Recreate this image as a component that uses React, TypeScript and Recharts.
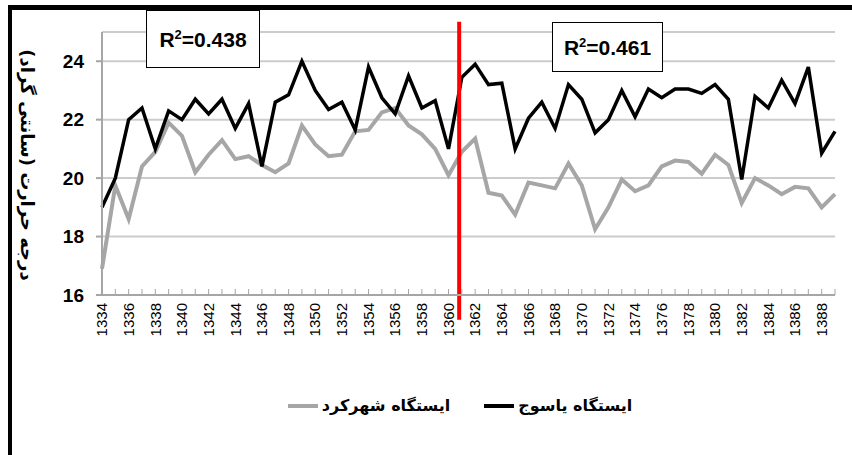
import {
	CartesianGrid,
	Legend,
	Line,
	LineChart,
	ReferenceLine,
	XAxis,
	YAxis,
} from 'recharts';

const years = [
	1334, 1335, 1336, 1337, 1338, 1339, 1340, 1341, 1342, 1343, 1344, 1345, 1346, 1347,
	1348, 1349, 1350, 1351, 1352, 1353, 1354, 1355, 1356, 1357, 1358, 1359, 1360, 1361,
	1362, 1363, 1364, 1365, 1366, 1367, 1368, 1369, 1370, 1371, 1372, 1373, 1374, 1375,
	1376, 1377, 1378, 1379, 1380, 1381, 1382, 1383, 1384, 1385, 1386, 1387, 1388, 1389,
];

// ایستگاه یاسوج (black)
const yasuj = [
	19.0, 20.0, 22.0, 22.4, 21.0, 22.3, 22.0, 22.7, 22.2, 22.7, 21.7, 22.55, 20.4, 22.6,
	22.85, 24.0, 23.0, 22.35, 22.6, 21.65, 23.8, 22.75, 22.2, 23.5, 22.4, 22.65, 21.0, 23.45,
	23.9, 23.2, 23.25, 21.0, 22.05, 22.6, 21.7, 23.2, 22.7, 21.55, 22.0, 23.0, 22.1, 23.05,
	22.75, 23.05, 23.05, 22.9, 23.2, 22.7, 19.95, 22.8, 22.4, 23.35, 22.55, 23.8, 20.85, 21.6,
];

// ایستگاه شهرکرد (gray)
const shahrekord = [
	16.9, 19.75, 18.6, 20.4, 20.9, 21.9, 21.45, 20.2, 20.8, 21.3, 20.65, 20.75, 20.45, 20.2,
	20.5, 21.8, 21.15, 20.75, 20.8, 21.6, 21.65, 22.25, 22.4, 21.8, 21.5, 21.0, 20.1, 20.9,
	21.35, 19.5, 19.4, 18.75, 19.85, 19.75, 19.65, 20.5, 19.75, 18.25, 19.0, 19.95, 19.55, 19.75,
	20.4, 20.6, 20.55, 20.15, 20.8, 20.45, 19.15, 20.0, 19.75, 19.45, 19.7, 19.65, 19.0, 19.45,
];

const yTicks = [16, 18, 20, 22, 24];
const breakYear = 1360.8;
const r2Left = '0.438';
const r2Right = '0.461';

const data = years.map((year, i) => ({
	year,
	yasuj: yasuj[i],
	shahrekord: shahrekord[i],
}));

const persianFont = "'DejaVu Sans', 'Noto Sans', sans-serif";
const numFont = "'Liberation Sans Narrow', 'Liberation Sans', Arial, sans-serif";

const YearTick = (props: any) => {
	const { x, y, payload } = props;
	if ((payload.value - years[0]) % 2 !== 0) return null;
	return (
		<text
			x={x}
			y={y}
			dy='0.35em'
			transform={`rotate(-90 ${x} ${y})`}
			textAnchor='end'
			fontSize={15}
			fontFamily="'Liberation Sans', Arial, sans-serif"
			fill='#000'>
			{payload.value}
		</text>
	);
};

const YLabel = () => (
	<text
		x={27}
		y={165}
		transform='rotate(90 27 165)'
		textAnchor='middle'
		dominantBaseline='central'
		fontSize={18}
		fontWeight='bold'
		fontFamily={persianFont}
		fill='#000'>
		درجه حرارت (سانتی گراد)
	</text>
);

const LegendContent = (props: any) => {
	const items = [...(props.payload || [])];
	return (
		<div
			style={{
				display: 'flex',
				justifyContent: 'center',
				alignItems: 'center',
				gap: 34,
				paddingLeft: 68,
			}}>
			{items.map((item: any) => (
				<div
					key={item.value}
					style={{ display: 'flex', alignItems: 'center', gap: 4 }}>
					<span
						style={{
							display: 'inline-block',
							width: 30,
							height: 4,
							background: item.color,
						}}
					/>
					<span
						style={{
							fontFamily: persianFont,
							fontWeight: 'bold',
							fontSize: 16,
							color: '#000',
						}}>
						{item.value}
					</span>
				</div>
			))}
		</div>
	);
};

const boxStyle = {
	position: 'absolute' as const,
	background: '#fff',
	border: '1.5px solid #000',
	display: 'flex',
	alignItems: 'center',
	justifyContent: 'center',
	fontFamily: numFont,
	fontWeight: 'bold' as const,
	fontSize: 21,
	color: '#000',
	boxSizing: 'border-box' as const,
};

export default function App() {
	return (
		<div
			style={{
				position: 'absolute',
				left: 0,
				top: 0,
				width: 852,
				height: 455,
				background: '#fff',
				overflow: 'hidden',
			}}>
			<LineChart
				width={852}
				height={455}
				data={data}
				margin={{ top: 32, right: 17, bottom: 100, left: 0 }}>
				<CartesianGrid
					vertical={false}
					stroke='#cccccc'
					strokeWidth={2}
				/>
				<XAxis
					dataKey='year'
					type='number'
					domain={[1334, 1389]}
					ticks={years}
					interval={0}
					height={60}
					tickSize={-6}
					tickMargin={14}
					tick={<YearTick />}
					axisLine={{ stroke: '#a6a6a6', strokeWidth: 2 }}
					tickLine={{ stroke: '#a6a6a6', strokeWidth: 1 }}
				/>
				<YAxis
					domain={[16, 25]}
					ticks={yTicks}
					width={102}
					tickSize={6}
					tickMargin={12}
					axisLine={{ stroke: '#a6a6a6', strokeWidth: 2 }}
					tickLine={{ stroke: '#a6a6a6', strokeWidth: 2 }}
					tick={{ fill: '#000', fontSize: 19, fontWeight: 'bold', fontFamily: numFont }}
				/>
				<Legend
					layout='horizontal'
					verticalAlign='middle'
					align='center'
					wrapperStyle={{ top: 396, left: 0, width: 852 }}
					content={<LegendContent />}
				/>
				<Line
					type='linear'
					dataKey='shahrekord'
					name='ایستگاه شهرکرد'
					stroke='#a6a6a6'
					strokeWidth={4}
					dot={false}
					isAnimationActive={false}
				/>
				<Line
					type='linear'
					dataKey='yasuj'
					name='ایستگاه یاسوج'
					stroke='#000000'
					strokeWidth={3.5}
					dot={false}
					isAnimationActive={false}
				/>
				<ReferenceLine
					ifOverflow='visible'
					segment={[
						{ x: breakYear, y: 15.15 },
						{ x: breakYear, y: 25.35 },
					]}
					stroke='#ff0000'
					strokeWidth={4}
				/>
			</LineChart>
			<svg
				width={60}
				height={455}
				style={{ position: 'absolute', left: 0, top: 0 }}>
				<YLabel />
			</svg>
			<div style={{ ...boxStyle, left: 146, top: 10, width: 114, height: 58 }}>
				<span>
					R<sup style={{ fontSize: 13 }}>2</sup>={r2Left}
				</span>
			</div>
			<div style={{ ...boxStyle, left: 552, top: 22, width: 111, height: 50 }}>
				<span>
					R<sup style={{ fontSize: 13 }}>2</sup>={r2Right}
				</span>
			</div>
			<div
				style={{
					position: 'absolute',
					left: 8,
					top: 5,
					width: 860,
					height: 470,
					borderTop: '5px solid #000',
					borderLeft: '4px solid #000',
					pointerEvents: 'none',
				}}
			/>
		</div>
	);
}
